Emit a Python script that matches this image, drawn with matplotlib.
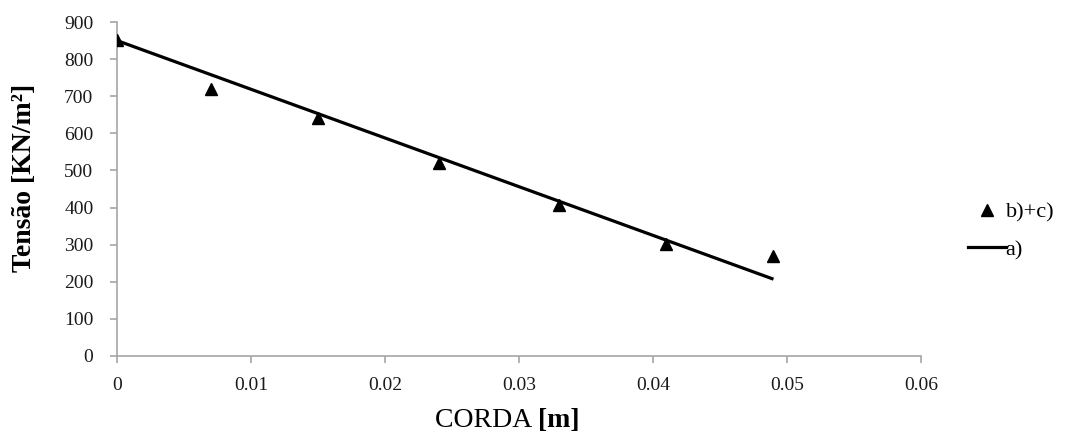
import matplotlib
matplotlib.use("Agg")
import matplotlib.pyplot as plt
from matplotlib.lines import Line2D

plt.rcParams['font.family'] = ['Liberation Serif', 'DejaVu Serif']

# Measured stresses along the chord, series b)+c)
corda_bc = [0.0, 0.007, 0.015, 0.024, 0.033, 0.041, 0.049]
tensao_bc = [852, 720, 641, 520, 407, 302, 270]

# Linear distribution, series a)
corda_a = [0.0, 0.049]
tensao_a = [850, 207]

x_ticks = [0.0, 0.01, 0.02, 0.03, 0.04, 0.05, 0.06]
x_tick_labels = ['0', '0.01', '0.02', '0.03', '0.04', '0.05', '0.06']
y_ticks = [0, 100, 200, 300, 400, 500, 600, 700, 800, 900]

fig = plt.figure(figsize=(10.67, 4.32), dpi=100)
ax = fig.add_axes([0.1097, 0.176, 0.7533, 0.773])

ax.plot(corda_a, tensao_a, color='black', lw=2.3, solid_capstyle='butt', zorder=2)
ax.plot(corda_bc, tensao_bc, linestyle='none', marker='^', markersize=8,
        color='black', zorder=3)

ax.set_xlim(0, 0.06)
ax.set_ylim(0, 900)
ax.set_xticks(x_ticks)
ax.set_xticklabels(x_tick_labels)
ax.set_yticks(y_ticks)

for side in ('top', 'right'):
    ax.spines[side].set_visible(False)
for side in ('left', 'bottom'):
    ax.spines[side].set_color('#a6a6a6')
    ax.spines[side].set_linewidth(1.2)
ax.tick_params(axis='both', colors='#a6a6a6', length=5, width=1.2,
               labelcolor='#1a1a1a', labelsize=14)
ax.tick_params(axis='x', pad=10)
ax.tick_params(axis='y', pad=12)

fig.text(25 / 1067, 0.589, 'Tensão [KN/m²]', fontsize=20, fontweight='bold',
         rotation=90, ha='center', va='center')

# x label: regular word followed by a bold unit
fig.text(0.504, 0.012, 'CORDA ', fontsize=20, ha='right', va='baseline')
fig.text(0.504, 0.012, '[m]', fontsize=20, fontweight='bold', ha='left', va='baseline')

handles = [
    Line2D([], [], linestyle='none', marker='^', markersize=8, color='black'),
    Line2D([], [], color='black', lw=2.3),
]
fig.legend(handles, ['b)+c)', 'a)'], loc='center left',
           bbox_to_anchor=(0.907, 0.465), frameon=False, fontsize=16,
           handlelength=1.7, handletextpad=0.0, labelspacing=0.75,
           borderaxespad=0.0, borderpad=0.0)

fig.savefig('out.png', dpi=100)
